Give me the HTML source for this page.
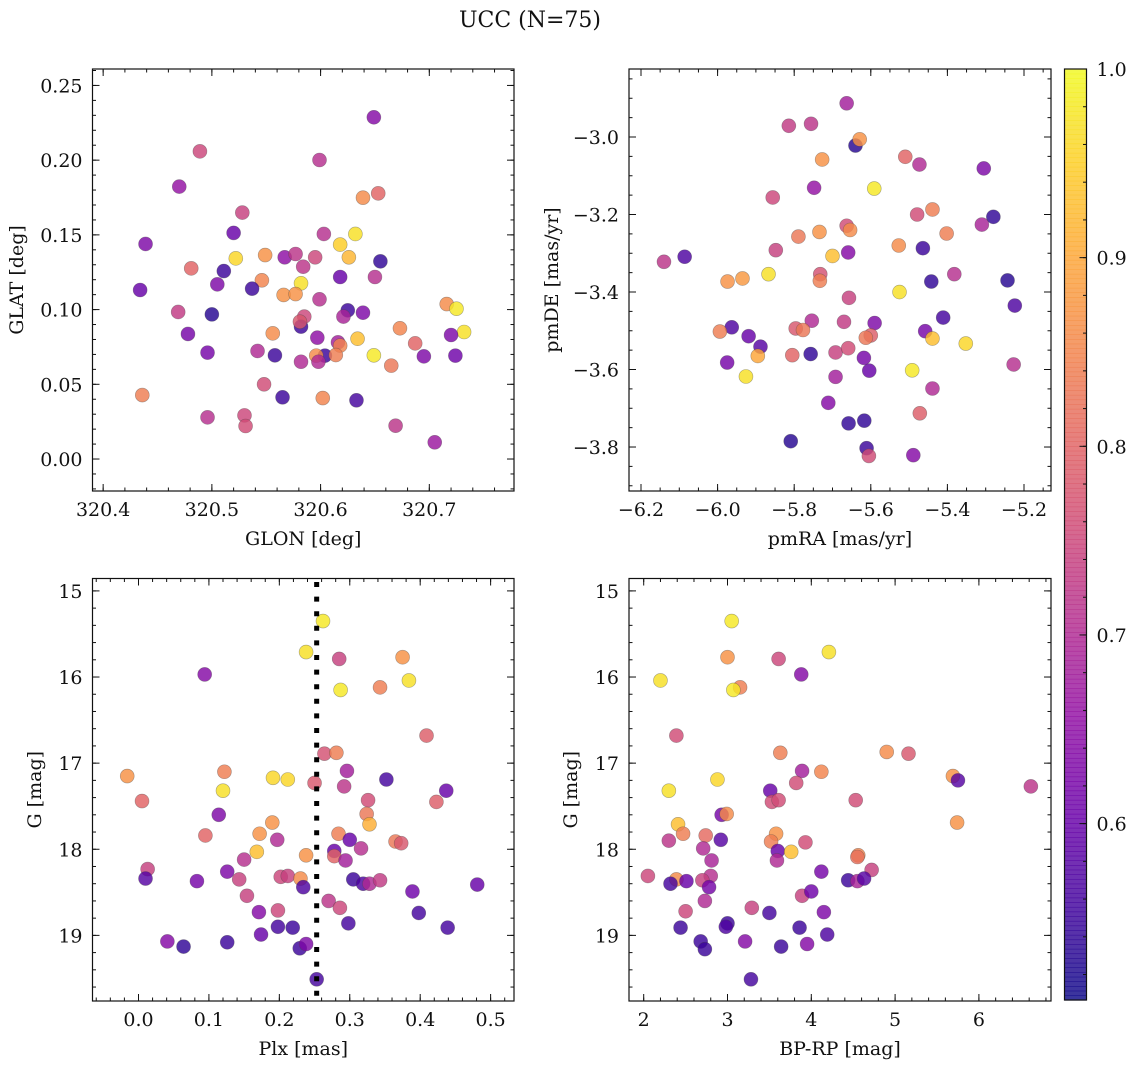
<!DOCTYPE html>
<html><head><meta charset="utf-8"><style>
html,body{margin:0;padding:0;background:#fff;}
svg text{font-family:"DejaVu Serif","Liberation Serif",serif;fill:#111;}
</style></head><body>
<svg id="fig" width="1136" height="1068" viewBox="0 0 1136 1068" xmlns="http://www.w3.org/2000/svg">
<rect width="1136" height="1068" fill="#fff"/>
<text x="530" y="27" font-size="22" text-anchor="middle">UCC (N=75)</text>
</svg>
<script>
// ---- data ----
const glon=[320.649,320.489,320.599,320.470,320.639,320.653,320.528,320.520,320.603,320.632,320.618,320.439,320.522,320.549,320.567,320.577,320.595,320.626,320.655,320.481,320.511,320.584,320.618,320.650,320.505,320.546,320.582,320.434,320.537,320.566,320.577,320.599,320.469,320.500,320.625,320.639,320.621,320.585,320.582,320.581,320.716,320.725,320.732,320.478,320.556,320.597,320.616,320.618,320.634,320.673,320.687,320.720,320.496,320.542,320.558,320.604,320.596,320.614,320.649,320.695,320.724,320.582,320.598,320.665,320.548,320.436,320.565,320.602,320.633,320.496,320.530,320.531,320.669,320.705];
const glat=[.2287,.2059,.2001,.1823,.1749,.1778,.1649,.1513,.1506,.1506,.1435,.1439,.1343,.1365,.1350,.1372,.1350,.1350,.1323,.1276,.1258,.1287,.1218,.1218,.1169,.1196,.1176,.1131,.1140,.1098,.1104,.1069,.0984,.0968,.0995,.0979,.0953,.0953,.0886,.0919,.1037,.1006,.0850,.0837,.0841,.0812,.0781,.0759,.0805,.0875,.0774,.0830,.0712,.0723,.0694,.0692,.0692,.0696,.0694,.0687,.0692,.0651,.0651,.0625,.0500,.0428,.0413,.0408,.0393,.0279,.0292,.0221,.0223,.0112];
const prob1=[0.64,0.75,0.71,0.66,0.86,0.80,0.74,0.60,0.71,0.97,0.95,0.63,0.96,0.87,0.65,0.72,0.75,0.92,0.54,0.80,0.55,0.72,0.60,0.71,0.63,0.85,0.97,0.60,0.55,0.87,0.87,0.71,0.73,0.53,0.55,0.63,0.69,0.75,0.55,0.78,0.86,0.98,0.97,0.62,0.86,0.65,0.68,0.85,0.93,0.85,0.80,0.63,0.62,0.70,0.55,0.55,0.86,0.84,0.98,0.63,0.61,0.70,0.70,0.83,0.76,0.84,0.55,0.85,0.56,0.71,0.75,0.76,0.72,0.67];

const pmra=[-5.663,-5.814,-5.756,-5.640,-5.629,-5.727,-5.510,-5.473,-5.305,-5.748,-5.591,-5.856,-5.479,-5.439,-5.280,-5.310,-5.663,-5.654,-5.734,-5.789,-5.402,-5.527,-5.464,-5.848,-5.659,-5.700,-6.086,-6.140,-5.867,-5.974,-5.935,-5.732,-5.733,-5.382,-5.442,-5.243,-5.525,-5.657,-5.224,-5.411,-5.754,-5.670,-5.590,-5.963,-5.994,-5.796,-5.777,-5.458,-5.439,-5.600,-5.613,-5.352,-5.919,-5.888,-5.895,-5.805,-5.757,-5.692,-5.659,-5.618,-5.975,-5.227,-5.926,-5.492,-5.604,-5.692,-5.439,-5.711,-5.472,-5.658,-5.617,-5.809,-5.611,-5.605,-5.489];
const pmde=[-2.913,-2.971,-2.966,-3.022,-3.006,-3.058,-3.051,-3.071,-3.081,-3.131,-3.133,-3.156,-3.200,-3.187,-3.206,-3.226,-3.229,-3.240,-3.245,-3.257,-3.249,-3.280,-3.287,-3.292,-3.298,-3.307,-3.309,-3.322,-3.354,-3.373,-3.365,-3.354,-3.371,-3.354,-3.373,-3.370,-3.400,-3.415,-3.435,-3.466,-3.474,-3.477,-3.480,-3.491,-3.502,-3.494,-3.498,-3.501,-3.520,-3.512,-3.518,-3.533,-3.514,-3.541,-3.565,-3.563,-3.560,-3.556,-3.545,-3.570,-3.582,-3.587,-3.618,-3.602,-3.603,-3.619,-3.649,-3.686,-3.713,-3.739,-3.732,-3.785,-3.803,-3.823,-3.821];
const prob2=[0.68,0.73,0.72,0.53,0.87,0.87,0.80,0.70,0.63,0.66,0.98,0.75,0.76,0.84,0.54,0.69,0.76,0.86,0.87,0.83,0.84,0.86,0.55,0.74,0.64,0.93,0.57,0.72,0.97,0.87,0.88,0.77,0.84,0.71,0.54,0.53,0.97,0.74,0.57,0.56,0.70,0.73,0.63,0.57,0.84,0.78,0.83,0.62,0.93,0.79,0.83,0.96,0.60,0.58,0.90,0.80,0.54,0.74,0.76,0.62,0.62,0.71,0.97,0.98,0.60,0.68,0.70,0.64,0.79,0.54,0.54,0.53,0.55,0.76,0.64];

const plx=[.262,.238,.285,.375,.384,.287,.343,.094,.409,.264,.281,-.016,.122,.191,.212,.296,.250,.352,.437,.120,.292,.005,.326,.423,.114,.324,.328,.190,.172,.095,.284,.197,.300,.365,.373,.316,.168,.238,.278,.278,.150,.294,.013,.010,.126,.083,.143,.202,.212,.230,.234,.305,.319,.328,.343,.481,.389,.154,.270,.286,.171,.198,.398,.298,.198,.219,.439,.174,.041,.064,.126,.229,.238,.253];
const gmag3=[15.35,15.71,15.79,15.77,16.04,16.15,16.12,15.97,16.68,16.89,16.88,17.15,17.10,17.17,17.19,17.09,17.23,17.19,17.32,17.32,17.27,17.44,17.43,17.45,17.60,17.59,17.71,17.69,17.82,17.84,17.82,17.89,17.89,17.91,17.93,17.99,18.03,18.07,18.02,18.08,18.12,18.13,18.23,18.34,18.26,18.37,18.35,18.32,18.31,18.34,18.44,18.35,18.40,18.40,18.36,18.41,18.49,18.54,18.60,18.68,18.73,18.71,18.74,18.86,18.90,18.91,18.91,18.99,19.07,19.13,19.08,19.15,19.10,19.51];
const prob3=[0.98,0.97,0.74,0.87,0.97,0.98,0.84,0.64,0.79,0.77,0.84,0.87,0.84,0.96,0.96,0.68,0.78,0.56,0.60,0.97,0.72,0.80,0.76,0.79,0.63,0.83,0.91,0.87,0.87,0.80,0.84,0.70,0.60,0.83,0.78,0.71,0.93,0.87,0.60,0.80,0.71,0.68,0.74,0.58,0.63,0.62,0.74,0.75,0.74,0.86,0.57,0.55,0.57,0.70,0.73,0.60,0.61,0.74,0.72,0.75,0.64,0.75,0.56,0.56,0.56,0.55,0.56,0.60,0.64,0.54,0.55,0.55,0.63,0.56];
const plxCut=[0.253];

const bprp=[3.05,3.00,3.61,4.21,2.20,3.88,3.15,3.07,2.39,3.63,4.90,5.16,3.89,4.12,2.88,3.82,5.69,5.75,6.62,2.30,3.51,3.53,3.61,4.53,2.93,2.99,5.74,2.41,2.47,2.74,3.58,3.52,2.30,2.92,3.93,2.71,3.60,3.76,4.56,4.55,3.59,2.81,4.12,4.72,2.05,2.39,2.32,2.51,2.80,2.70,2.78,4.44,4.55,4.63,2.73,3.89,4.00,2.50,3.29,3.50,4.15,2.44,3.00,2.98,3.86,4.19,2.68,2.73,3.21,3.64,3.95,3.28];
const gmag4=[15.35,15.77,15.79,15.71,16.04,15.97,16.12,16.15,16.68,16.88,16.87,16.89,17.09,17.10,17.19,17.23,17.15,17.20,17.27,17.32,17.32,17.45,17.43,17.43,17.60,17.59,17.69,17.71,17.82,17.84,17.82,17.91,17.90,17.89,17.92,17.99,18.02,18.03,18.07,18.09,18.13,18.13,18.26,18.24,18.31,18.35,18.40,18.37,18.31,18.36,18.44,18.36,18.37,18.34,18.60,18.54,18.49,18.72,18.68,18.74,18.73,18.91,18.86,18.90,18.91,18.99,19.07,19.16,19.07,19.13,19.10,19.51];
const prob4=[0.98,0.87,0.75,0.97,0.97,0.64,0.84,0.98,0.76,0.84,0.86,0.78,0.68,0.85,0.96,0.76,0.87,0.58,0.72,0.97,0.60,0.76,0.76,0.76,0.62,0.86,0.87,0.93,0.84,0.81,0.87,0.84,0.72,0.58,0.76,0.70,0.60,0.93,0.85,0.82,0.70,0.69,0.62,0.74,0.75,0.86,0.56,0.60,0.71,0.74,0.62,0.55,0.69,0.58,0.70,0.74,0.61,0.75,0.74,0.56,0.63,0.55,0.55,0.57,0.55,0.57,0.55,0.55,0.64,0.55,0.64,0.56];

const xt1=[320.4,320.5,320.6,320.7], xt1Labels=["320.4","320.5","320.6","320.7"];
const yt1=[0,0.05,0.10,0.15,0.20,0.25], yt1Labels=["0.00","0.05","0.10","0.15","0.20","0.25"];
const xt2=[-6.2,-6.0,-5.8,-5.6,-5.4,-5.2], xt2Labels=["−6.2","−6.0","−5.8","−5.6","−5.4","−5.2"];
const yt2=[-3.0,-3.2,-3.4,-3.6,-3.8], yt2Labels=["−3.0","−3.2","−3.4","−3.6","−3.8"];
const xt3=[0,0.1,0.2,0.3,0.4,0.5], xt3Labels=["0.0","0.1","0.2","0.3","0.4","0.5"];
const yt3=[15,16,17,18,19], yt3Labels=["15","16","17","18","19"];
const xt4=[2,3,4,5,6], xt4Labels=["2","3","4","5","6"];
const cbTicks=[0.6,0.7,0.8,0.9,1.0], cbLabels=["0.6","0.7","0.8","0.9","1.0"];
const cbRange=[0.5065,1.0];

// ---- helpers ----
const NS="http://www.w3.org/2000/svg";
const svg=document.getElementById('fig');
const FS=19;
function mk(tag,attrs,parent){const e=document.createElementNS(NS,tag);for(const k in attrs)e.setAttribute(k,attrs[k]);(parent||svg).appendChild(e);return e;}
function scale(d0,d1,r0,r1){return v=>r0+(v-d0)*(r1-r0)/(d1-d0);}
const stops=["#0d0887","#41049d","#6a00a8","#8f0da4","#b12a90","#cc4778","#e16462","#f2844b","#fca636","#fcce25","#f0f921"];
function hex(h){return [parseInt(h.substr(1,2),16),parseInt(h.substr(3,2),16),parseInt(h.substr(5,2),16)];}
function plasma(t){t=Math.max(0,Math.min(1,t));const p=t*10,i=Math.min(9,Math.floor(p)),f=p-i;const a=hex(stops[i]),b=hex(stops[i+1]);return 'rgb('+a.map((c,k)=>Math.round(c+(b[k]-c)*f)).join(',')+')';}
function cmap(v){return plasma((v-cbRange[0])/(cbRange[1]-cbRange[0]));}

function panel(cfg){
  const g=mk('g',{});
  
  
  const sx=scale(cfg.xd[0],cfg.xd[1],cfg.x0,cfg.x1);
  const sy=scale(cfg.yd[0],cfg.yd[1],cfg.y1,cfg.y0);
  const pg=mk('g',{},g);
  
  
  const n=Math.min(cfg.xs.length,cfg.ys.length,cfg.cs.length);
  for(let i=0;i<n;i++){
    const c=mk('circle',{cx:sx(cfg.xs[i]),cy:sy(cfg.ys[i]),r:7,fill:cmap(cfg.cs[i]),'fill-opacity':0.82,stroke:'#444','stroke-opacity':0.45,'stroke-width':0.6},pg);
    
    
  }
  if(cfg.extra)cfg.extra(g,sx,sy);
  const fr=mk('rect',{x:cfg.x0,y:cfg.y0,width:cfg.x1-cfg.x0,height:cfg.y1-cfg.y0,fill:'none',stroke:'#111','stroke-width':1.2},g);
  
  
  const tg=mk('g',{stroke:'#111','stroke-width':1},g);
  
  
  const eps=1e-9;
  function xtick(v,len){const x=sx(v);if(x<cfg.x0+0.5||x>cfg.x1-0.5)return;mk('line',{x1:x,x2:x,y1:cfg.y1,y2:cfg.y1-len},tg);mk('line',{x1:x,x2:x,y1:cfg.y0,y2:cfg.y0+len},tg);}
  function ytick(v,len){const y=sy(v);if(y<cfg.y0+0.5||y>cfg.y1-0.5)return;mk('line',{x1:cfg.x0,x2:cfg.x0+len,y1:y,y2:y},tg);mk('line',{x1:cfg.x1,x2:cfg.x1-len,y1:y,y2:y},tg);}
  const lo=Math.min(...cfg.xd),hi=Math.max(...cfg.xd);
  for(let k=Math.ceil(lo/cfg.xminor-eps);k*cfg.xminor<=hi+eps;k++)xtick(k*cfg.xminor,3.5);
  const ylo=Math.min(...cfg.yd),yhi=Math.max(...cfg.yd);
  for(let k=Math.ceil(ylo/cfg.yminor-eps);k*cfg.yminor<=yhi+eps;k++)ytick(k*cfg.yminor,3.5);
  cfg.xt.forEach(v=>xtick(v,7));
  cfg.yt.forEach(v=>ytick(v,7));
  cfg.xt.forEach((v,i)=>{const t=mk('text',{x:sx(v),y:cfg.y1+25,'font-size':FS,'text-anchor':'middle'},g);t.textContent=cfg.xl[i];});
  cfg.yt.forEach((v,i)=>{const t=mk('text',{x:cfg.x0-10,y:sy(v)+7,'font-size':FS,'text-anchor':'end'},g);t.textContent=cfg.yl[i];});
  const xa=mk('text',{x:(cfg.x0+cfg.x1)/2,y:cfg.y1+54,'font-size':FS,'text-anchor':'middle'},g);
  xa.textContent=cfg.xtitle;
  
  
  const yc=(cfg.y0+cfg.y1)/2;
  const ya=mk('text',{x:cfg.ytx,y:yc,'font-size':FS,'text-anchor':'middle',transform:'rotate(-90 '+cfg.ytx+' '+yc+')','dominant-baseline':'central'},g);
  ya.textContent=cfg.ytitle;
  
  
}

panel({name:'glon-glat-panel',x0:92.5,x1:514,y0:69,y1:491,xd:[320.3902,320.7779],yd:[-0.0214,0.2610],xs:glon,ys:glat,cs:prob1,xt:xt1,xl:xt1Labels,yt:yt1,yl:yt1Labels,xminor:0.02,yminor:0.01,xtitle:'GLON [deg]',ytitle:'GLAT [deg]',ytx:17});
panel({name:'pm-panel',x0:629,x1:1051,y0:69,y1:491,xd:[-6.2313,-5.1295],yd:[-3.9135,-2.8245],xs:pmra,ys:pmde,cs:prob2,xt:xt2,xl:xt2Labels,yt:yt2,yl:yt2Labels,xminor:0.05,yminor:0.05,xtitle:'pmRA [mas/yr]',ytitle:'pmDE [mas/yr]',ytx:552});
panel({name:'plx-g-panel',x0:92.5,x1:514,y0:578.5,y1:1001,xd:[-0.0653,0.5332],yd:[19.762,14.856],xs:plx,ys:gmag3,cs:prob3,xt:xt3,xl:xt3Labels,yt:yt3,yl:yt3Labels,xminor:0.02,yminor:0.2,xtitle:'Plx [mas]',ytitle:'G [mag]',ytx:35,
  extra:(g,sx,sy)=>{plxCut.forEach(v=>{const l=mk('line',{x1:sx(v),x2:sx(v),y1:579,y2:1001,stroke:'#000','stroke-width':5,'stroke-dasharray':'5 9.6','stroke-dashoffset':-3},g);});}});
panel({name:'cmd-panel',x0:629,x1:1051,y0:578.5,y1:1001,xd:[1.8246,6.8604],yd:[19.762,14.856],xs:bprp,ys:gmag4,cs:prob4,xt:xt4,xl:xt4Labels,yt:yt3,yl:yt3Labels,xminor:0.2,yminor:0.2,xtitle:'BP-RP [mag]',ytitle:'G [mag]',ytx:571});

// colorbar
(function(){
  const x0=1064.5,x1=1086.5,y0=69,y1=1000;
  const g=mk('g',{});
  
  
  const sy=scale(cbRange[0],cbRange[1],y1,y0);
  const N=200;
  for(let i=0;i<N;i++){const v0=cbRange[0]+(cbRange[1]-cbRange[0])*i/N,v1=cbRange[0]+(cbRange[1]-cbRange[0])*(i+1)/N;
    mk('rect',{x:x0,y:sy(v1),width:x1-x0,height:sy(v0)-sy(v1)+0.6,fill:cmap((v0+v1)/2),'fill-opacity':0.82},g);}
  mk('rect',{x:x0,y:y0,width:x1-x0,height:y1-y0,fill:'none',stroke:'#111','stroke-width':1.2},g);
  for(let k=Math.ceil(cbRange[0]/0.02);k*0.02<=cbRange[1]+1e-9;k++){const y=sy(k*0.02);mk('line',{x1:x1,x2:x1-3.5,y1:y,y2:y,stroke:'#111'},g);}
  cbTicks.forEach((v,i)=>{const y=sy(v);mk('line',{x1:x1,x2:x1-7,y1:y,y2:y,stroke:'#111'},g);
    const t=mk('text',{x:x1+10,y:y+7,'font-size':FS},g);t.textContent=cbLabels[i];
    
    });
})();
</script>
</body></html>
